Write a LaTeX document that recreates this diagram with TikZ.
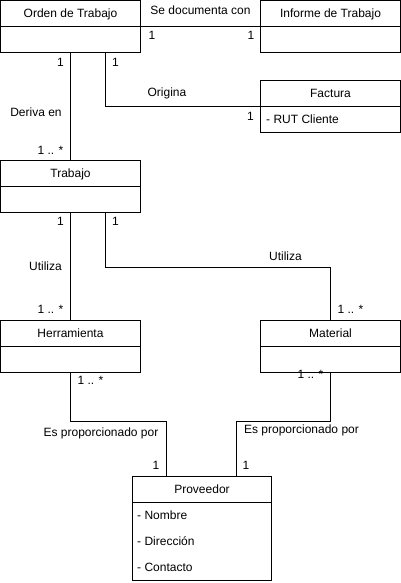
\documentclass[tikz,border=0pt]{standalone}
\usepackage{fontspec}
\setmainfont{Liberation Sans}
\usetikzlibrary{positioning,calc}
\begin{document}
\begin{tikzpicture}[x=1pt,y=-1pt,
  txt/.style={font=\fontsize{12}{14}\selectfont, text height=8.6pt, text depth=0pt},
  hdr/.style={txt, draw, line width=1pt, minimum width=140pt, minimum height=26pt, inner sep=0pt},
  bdy/.style={draw, line width=1pt, minimum width=140pt, minimum height=26pt, inner sep=0pt},
  attr/.style={txt, inner sep=0pt, anchor=west},
  lbl/.style={txt, inner sep=0pt},
  link/.style={draw, line width=1pt}]
\useasboundingbox (0,0) rectangle (401,583);

% classes
\node[hdr] (ordenh) at (70.5,13.5) {Orden de Trabajo};
\node[bdy] (ordenb) at (70.5,39.5) {};
\node[hdr] (informeh) at (330.5,13.5) {Informe de Trabajo};
\node[bdy] (informeb) at (330.5,39.5) {};
\node[hdr] (facturah) at (330.5,93.5) {Factura};
\node[bdy] (facturab) at (330.5,119.5) {};
\node[attr] (rut) at (266,119.5) {- RUT Cliente};
\node[hdr] (trabajoh) at (70.5,173.5) {Trabajo};
\node[bdy] (trabajob) at (70.5,199.5) {};
\node[hdr] (herrh) at (70.5,333.5) {Herramienta};
\node[bdy] (herrb) at (70.5,359.5) {};
\node[hdr] (materialh) at (330.5,333.5) {Material};
\node[bdy] (materialb) at (330.5,359.5) {};
\node[hdr, minimum width=139pt] (provh) at (202,489.5) {Proveedor};
\node[bdy, minimum width=139pt, minimum height=78pt] (provb) at (202,541.5) {};
\node[attr] (nombre) at (137,515.5) {- Nombre};
\node[attr] (direccion) at (137,541.5) {- Dirección};
\node[attr] (contacto) at (137,567.5) {- Contacto};

% connectors
\draw[link] (ordenh.south east) -- (informeh.south west);
\draw[link] (ordenb.south) -- (trabajoh.north);
\draw[link] ([xshift=35pt]ordenb.south) |- (facturah.south west);
\draw[link] (trabajob.south) -- (herrh.north);
\draw[link] ([xshift=35pt]trabajob.south) -- ++(0,54) -| (materialh.north);
\draw[link] (herrb.south) -- ++(0,48) -| ([xshift=-36pt]provh.north);
\draw[link] (materialb.south) -- ++(0,48) -| ([xshift=34pt]provh.north);

% labels
\node[lbl] (l1) at (200.5,10) {Se documenta con};
\node[lbl] (l2) at (152,35) {1};
\node[lbl] (l3) at (251,35) {1};
\node[lbl] (l4) at (60.5,62) {1};
\node[lbl] (l5) at (115.5,62) {1};
\node[lbl] (l6) at (36,112.5) {Deriva en};
\node[lbl] (l7) at (167,92.5) {Origina};
\node[lbl] (l8) at (250.5,116) {1};
\node[lbl] (l9) at (50.5,150) {1 .. *};
\node[lbl] (l10) at (60.5,221.5) {1};
\node[lbl] (l11) at (115.5,221.5) {1};
\node[lbl] (l12) at (45.5,266) {Utiliza};
\node[lbl] (l13) at (285.5,256) {Utiliza};
\node[lbl] (l14) at (50.5,309) {1 .. *};
\node[lbl] (l15) at (350.5,309) {1 .. *};
\node[lbl] (l16) at (90.5,380.5) {1 .. *};
\node[lbl] (l17) at (310.5,374.5) {1 .. *};
\node[lbl] (l18) at (101,432.5) {Es proporcionado por};
\node[lbl] (l19) at (301.5,429.5) {Es proporcionado por};
\node[lbl] (l20) at (156,465.5) {1};
\node[lbl] (l21) at (246,465.5) {1};
\end{tikzpicture}
\end{document}
